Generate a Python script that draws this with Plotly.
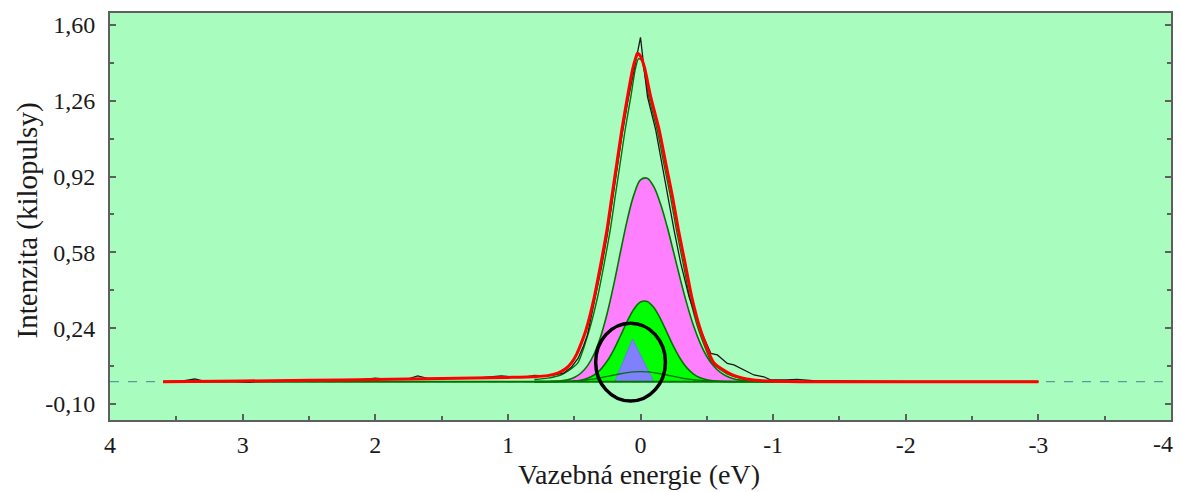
import plotly.graph_objects as go

# ---------------- data ----------------
# measured spectrum (black)
DATA_X = [3.60, 3.45, 3.36, 3.30, 3.10, 2.95, 2.85, 2.60, 2.30, 2.10, 2.00, 1.90, 1.75, 1.68, 1.60,
          1.40, 1.20, 1.05, 0.95, 0.85, 0.80, 0.72, 0.65, 0.58, 0.52, 0.47, 0.43, 0.40, 0.345, 0.295,
          0.25, 0.213, 0.175, 0.138, 0.095, 0.06, 0.03, 0.00, -0.02, -0.053, -0.115, -0.16,
          -0.203, -0.253, -0.303, -0.366, -0.453, -0.50, -0.53, -0.58, -0.654, -0.704, -0.78,
          -0.855, -0.93, -0.98, -1.10, -1.18, -1.30, -1.60, -2.00, -2.50, -3.00]
DATA_Y = [0.000, 0.003, 0.012, 0.003, 0.004, -0.003, 0.005, 0.006, 0.008, 0.009, 0.016, 0.010,
          0.013, 0.026, 0.014, 0.016, 0.018, 0.026, 0.020, 0.022, 0.028, 0.026, 0.030, 0.038,
          0.066, 0.105, 0.160, 0.210, 0.36, 0.51, 0.66, 0.81, 0.96, 1.11, 1.26, 1.37, 1.46, 1.545,
          1.44, 1.278, 1.129, 0.981, 0.830, 0.680, 0.532, 0.381, 0.232, 0.17, 0.127, 0.120, 0.082,
          0.075, 0.052, 0.030, 0.022, 0.008, 0.008, 0.010, 0.004, 0.002, 0.0, 0.0, 0.0]

# fitted curve (red)
FIT_X = [3.60, 3.00, 2.50, 2.00, 1.50, 1.00, 0.80, 0.70, 0.624, 0.56, 0.52, 0.48, 0.445, 0.411,
         0.348, 0.298, 0.253, 0.216, 0.178, 0.141, 0.098, 0.06, 0.035, 0.023, 0.00, -0.03, -0.077,
         -0.141, -0.190, -0.241, -0.286, -0.336, -0.386, -0.453, -0.554, -0.677, -0.80, -0.90,
         -1.00, -1.20, -2.00, -3.00]
FIT_Y = [0.000, 0.003, 0.006, 0.010, 0.014, 0.019, 0.022, 0.027, 0.038, 0.060, 0.085, 0.125,
         0.175, 0.232, 0.381, 0.532, 0.680, 0.830, 0.981, 1.129, 1.278, 1.40, 1.455, 1.473, 1.46,
         1.41, 1.278, 1.129, 0.981, 0.830, 0.680, 0.532, 0.381, 0.232, 0.084, 0.035, 0.012,
         0.005, 0.002, 0.0, 0.0, 0.0]

# envelope of components (dark green)
ENV_X = [0.80, 0.70, 0.60, 0.54, 0.473, 0.386, 0.323, 0.273, 0.228, 0.191, 0.153, 0.116, 0.073,
         0.04, 0.015, -0.01, -0.062, -0.126, -0.175, -0.226, -0.271, -0.321, -0.371, -0.438,
         -0.539, -0.66, -0.80, -1.00]
ENV_Y = [0.010, 0.016, 0.030, 0.050, 0.084, 0.232, 0.381, 0.532, 0.680, 0.830, 0.981, 1.129,
         1.278, 1.40, 1.45, 1.44, 1.278, 1.129, 0.981, 0.830, 0.680, 0.532, 0.381, 0.232, 0.084,
         0.033, 0.008, 0.0]

# background line
BG_X = [3.60, -3.00]
BG_Y = [0.0, 0.0]

# component energies
COMP_X = [0.80, 0.75, 0.70, 0.65, 0.60, 0.55, 0.50, 0.45, 0.40, 0.35, 0.30, 0.25, 0.20, 0.15,
          0.10, 0.05, 0.00, -0.05, -0.10, -0.15, -0.20, -0.25, -0.30, -0.35, -0.40, -0.45,
          -0.50, -0.55, -0.60, -0.65, -0.70, -0.75, -0.80, -0.85, -0.90, -0.95, -1.00]
MAGENTA_Y = [0.000, 0.0002, 0.0006, 0.0015, 0.0038, 0.0087, 0.0188, 0.0377, 0.0707, 0.124, 0.203,
             0.309, 0.440, 0.585, 0.725, 0.838, 0.905, 0.913, 0.875, 0.799, 0.697, 0.580, 0.460,
             0.348, 0.251, 0.173, 0.113, 0.071, 0.0425, 0.0242, 0.0132, 0.0068, 0.0034, 0.0016,
             0.0007, 0.0003, 0.0001]
GREEN_Y = [0, 0, 0, 0.0001, 0.0004, 0.0011, 0.0028, 0.0067, 0.0148, 0.0299, 0.0552, 0.0935, 0.145,
           0.207, 0.271, 0.325, 0.357, 0.360, 0.333, 0.283, 0.220, 0.157, 0.103, 0.0618, 0.034,
           0.0172, 0.008, 0.0034, 0.0013, 0.0005, 0.0002, 0.0001, 0, 0, 0, 0, 0]
BROAD_Y = [0.0001, 0.0001, 0.0003, 0.0006, 0.0011, 0.0020, 0.0034, 0.0056, 0.0086, 0.0127, 0.0178,
           0.0236, 0.0298, 0.0357, 0.0406, 0.0439, 0.045, 0.0439, 0.0406, 0.0357, 0.0298, 0.0236,
           0.0178, 0.0127, 0.0086, 0.0056, 0.0034, 0.0020, 0.0011, 0.0006, 0.0003, 0.0001, 0.0001,
           0, 0, 0, 0]
BLUE_X = [0.195, 0.06, -0.10]
BLUE_Y = [0.0, 0.192, 0.0]

# axis ticks
X_TICKS = [4, 3, 2, 1, 0, -1, -2, -3, -4]
X_TICK_LABELS = ["4", "3", "2", "1", "0", "-1", "-2", "-3", "-4"]
Y_TICKS = [-0.10, 0.24, 0.58, 0.92, 1.26, 1.60]
Y_TICK_LABELS = ["-0,10", "0,24", "0,58", "0,92", "1,26", "1,60"]
Y_MINOR = [0.07, 0.41, 0.75, 1.09, 1.43]
X_MINOR = [3.5, 2.5, 1.5, 0.5, -0.5, -1.5, -2.5, -3.5]

# ---------------- styling ----------------
BG = "rgb(168,253,190)"
DKGREEN = "rgb(0,115,0)"
FRAME = "rgb(95,95,95)"
FONT = "Liberation Serif"
TXT = "#1a1a1a"

fig = go.Figure()

fig.add_trace(go.Scatter(x=COMP_X, y=MAGENTA_Y, mode="lines", fill="tozeroy",
                         fillcolor="rgb(255,128,255)", line=dict(color=DKGREEN, width=1.6, shape="spline"),
                         showlegend=False))
fig.add_trace(go.Scatter(x=COMP_X, y=GREEN_Y, mode="lines", fill="tozeroy",
                         fillcolor="rgb(0,255,0)", line=dict(color=DKGREEN, width=1.6, shape="spline"),
                         showlegend=False))
fig.add_trace(go.Scatter(x=BLUE_X, y=BLUE_Y, mode="lines", fill="toself",
                         fillcolor="rgb(128,128,255)", line=dict(color="rgb(110,110,235)", width=0.8),
                         showlegend=False))
fig.add_trace(go.Scatter(x=COMP_X, y=BROAD_Y, mode="lines",
                         line=dict(color=DKGREEN, width=1.4, shape="spline"), showlegend=False))
fig.add_trace(go.Scatter(x=BG_X, y=BG_Y, mode="lines",
                         line=dict(color=DKGREEN, width=2), showlegend=False))
fig.add_trace(go.Scatter(x=ENV_X, y=ENV_Y, mode="lines",
                         line=dict(color=DKGREEN, width=1.4, shape="spline", smoothing=0.5),
                         showlegend=False))
fig.add_trace(go.Scatter(x=DATA_X, y=DATA_Y, mode="lines",
                         line=dict(color="rgb(25,25,25)", width=1.3), showlegend=False))
fig.add_trace(go.Scatter(x=FIT_X, y=FIT_Y, mode="lines",
                         line=dict(color="rgb(255,0,0)", width=3, shape="spline", smoothing=0.6),
                         showlegend=False))

# dashed zero line across the whole plot
fig.add_shape(type="line", xref="paper", yref="y", x0=0, x1=1, y0=0, y1=0,
              line=dict(color="rgb(95,150,160)", width=1.2, dash="dash"), layer="below")
# highlight circle
fig.add_shape(type="circle", xref="x", yref="y", x0=0.338, x1=-0.188, y0=-0.087, y1=0.262,
              line=dict(color="black", width=3.5), layer="above")

# the last x tick label sits at the page edge; it is drawn shifted left, as in the reference
x_labels_axis = X_TICK_LABELS[:-1] + [""]

fig.update_xaxes(range=[4, -4], tickvals=X_TICKS, ticktext=x_labels_axis,
                 ticks="inside", ticklen=6, tickwidth=1.5, tickcolor=FRAME,
                 minor=dict(tickvals=X_MINOR, ticks="inside", ticklen=4, tickcolor=FRAME, tickwidth=1.5),
                 showline=True, linecolor=FRAME, linewidth=2, mirror=True,
                 showgrid=False, zeroline=False,
                 tickfont=dict(family=FONT, size=24, color=TXT), ticklabelstandoff=2)
fig.update_yaxes(range=[-0.172, 1.654], tickvals=Y_TICKS, ticktext=Y_TICK_LABELS,
                 ticks="inside", ticklen=6, tickwidth=1.5, tickcolor=FRAME,
                 minor=dict(tickvals=Y_MINOR, ticks="inside", ticklen=4, tickcolor=FRAME, tickwidth=1.5),
                 showline=True, linecolor=FRAME, linewidth=2, mirror="ticks",
                 showgrid=False, zeroline=False,
                 tickfont=dict(family=FONT, size=24, color=TXT), ticklabelstandoff=8)

fig.add_annotation(text=X_TICK_LABELS[-1], xref="x", yref="paper", x=X_TICKS[-1], y=0,
                   xanchor="right", yanchor="top", xshift=4, yshift=-9, showarrow=False,
                   font=dict(family=FONT, size=24, color=TXT))
fig.add_annotation(text="Vazebná energie (eV)", xref="paper", yref="paper",
                   x=0.4986, y=-0.134, xanchor="center", yanchor="middle", showarrow=False,
                   font=dict(family=FONT, size=28, color=TXT))
fig.add_annotation(text="Intenzita (kilopulsy)", xref="paper", yref="paper",
                   x=-0.078, y=0.491, xanchor="center", yanchor="middle", showarrow=False,
                   textangle=-90, font=dict(family=FONT, size=29, color=TXT))

fig.update_layout(width=1181, height=492, margin=dict(l=110, r=8, t=13, b=72),
                  plot_bgcolor=BG, paper_bgcolor="white", showlegend=False)

fig.write_html("out.html")
